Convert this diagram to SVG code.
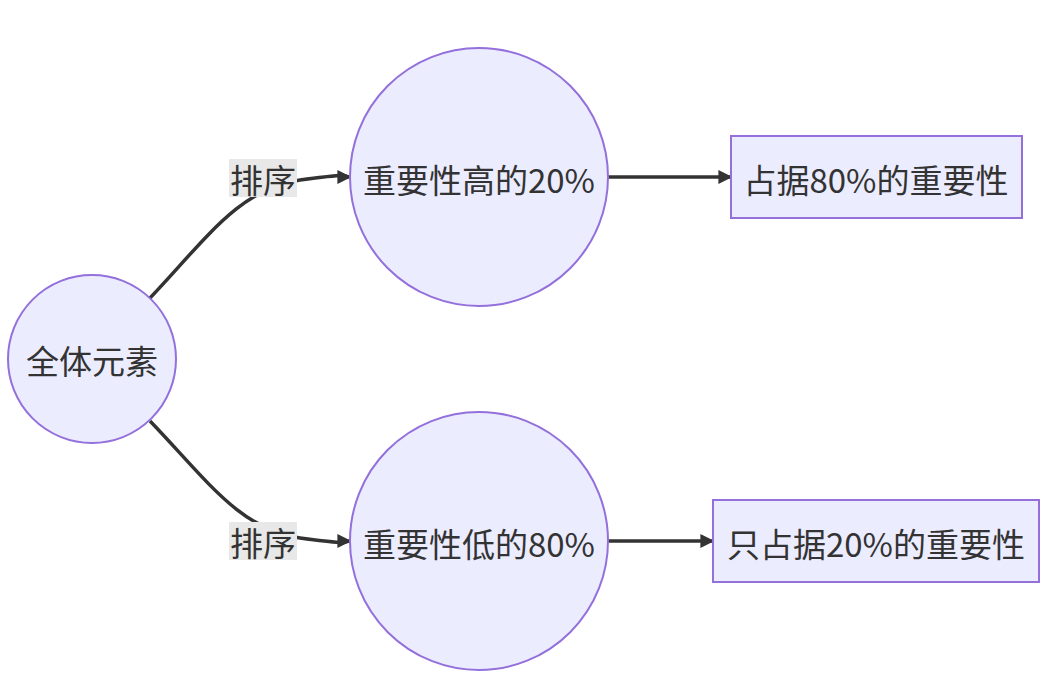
<svg xmlns="http://www.w3.org/2000/svg" width="1058" height="693" viewBox="0 0 1058 693">
<style>
.node{fill:#ECECFF;stroke:#9370DB;stroke-width:2}
.t{font-family:"Noto Sans CJK SC","Noto Sans",sans-serif;font-size:33px;fill:#333;text-anchor:middle;dominant-baseline:central}
.e{fill:none;stroke:#333;stroke-width:3.5}
.lb{fill:#e8e8e8}
</style>
<defs>
<marker id="ah" viewBox="0 0 10 10" refX="9" refY="5" markerWidth="4" markerHeight="4" markerUnits="strokeWidth" orient="auto">
<path d="M0,0 L10,5 L0,10 z" fill="#333"/>
</marker>
</defs>
<rect width="1058" height="693" fill="#fff"/>
<g id="edges">
<path class="e" d="M150,298 C205,240 240,188 300,180 S340,177 350,177" marker-end="url(#ah)"/>
<path class="e" d="M150,421 C205,478 240,530 300,538 S340,541 350,541" marker-end="url(#ah)"/>
<path class="e" d="M608,177 L731,177" marker-end="url(#ah)"/>
<path class="e" d="M608,541 L713,541" marker-end="url(#ah)"/>
</g>
<g id="edge-labels">
<rect class="lb" x="229" y="159" width="68" height="38"/>
<text class="t" x="263" y="179">排序</text>
<rect class="lb" x="229" y="522" width="68" height="38"/>
<text class="t" x="263" y="542">排序</text>
</g>
<g id="A">
<circle class="node" cx="92" cy="359" r="84"/>
<text class="t" x="92" y="360">全体元素</text>
</g>
<g id="B">
<circle class="node" cx="479" cy="177" r="129"/>
<text class="t" x="479" y="179">重要性高的20%</text>
</g>
<g id="C">
<circle class="node" cx="479" cy="541" r="129"/>
<text class="t" x="479" y="543">重要性低的80%</text>
</g>
<g id="D">
<rect class="node" x="731" y="136" width="291" height="82"/>
<text class="t" x="876" y="179">占据80%的重要性</text>
</g>
<g id="E">
<rect class="node" x="713" y="500" width="326" height="82"/>
<text class="t" x="876" y="543">只占据20%的重要性</text>
</g>
</svg>
